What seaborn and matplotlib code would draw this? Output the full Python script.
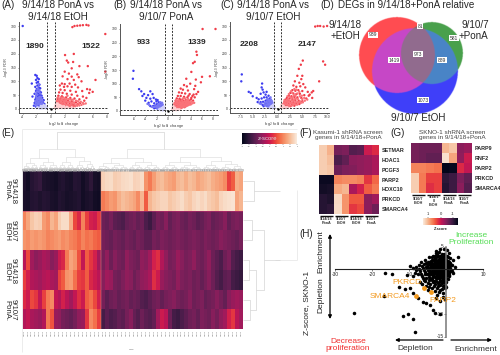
import numpy as np
import pandas as pd
import matplotlib
matplotlib.use("Agg")
import matplotlib.pyplot as plt
from matplotlib.cm import ScalarMappable
from matplotlib.colors import Normalize
import seaborn as sns

sns.set_theme(style="white")
plt.rcParams['font.family'] = ['Liberation Sans', 'DejaVu Sans']

W, H = 500, 355
# ---------- volcano data ----------
a_blue = [(-4,300),(-2.2,123),(-2,120),(-1.9,112),(-2.1,105),(-1.7,108),(-1.8,98),(-2.7,92),(-2,95),(-1.6,88),(-1.9,85),(-2.2,80),(-1.7,78),(-1.5,75),(-2,72),(-1.8,68),(-2.1,65),(-1.6,62),(-1.4,60),(-1.9,58),(-2.3,55),(-1.7,55),(-1.5,52),(-2,50),(-1.3,48),(-1.7,47),(-2.6,45),(-1.9,44),(-1.5,42),(-2.1,40),(-1.2,40),(-1.6,38),(-1.8,36),(-2.2,34),(-1.4,34),(-1,32),(-1.7,30),(-2,28),(-1.3,28),(-1.5,25),(-1.9,24),(-2.3,22),(-1.1,24),(-1.6,20),(-1.3,18),(-2,18),(-0.9,18),(-1.8,15),(-1.5,14),(-2.4,12),(-1.1,12),(-1.7,10),(-2.1,8),(-1.3,8),(-1.6,30),(-1.4,22),(-1.2,16),(-1.8,46),(-1.6,52)]
a_blue_mid = [(-1.2,14),(-1.4,15),(-1.6,16),(-1.8,18),(-2,14),(-2.2,16),(-1.1,20),(-1.3,22),(-1.5,20),(-1.7,22),(-1.9,20),(-2.1,24),(-1.2,30),(-1.4,30),(-1.6,28),(-1.8,26),(-2,33),(-2.2,28),(-1.3,36),(-1.5,36),(-1.7,36),(-1.9,32),(-2.1,46),(-1.4,44),(-1.6,44),(-1.8,40),(-2,40),(-1.5,56),(-1.7,62),(-1.9,52),(-2.1,56),(-1.6,68),(-1.8,74),(-2,62),(-1.7,90),(-1.9,70),(-1,8),(-1.2,11),(-1.4,7),(-1.6,6),(-1.8,8),(-2,9)]
a_blue_pale = [(-1.2,6),(-1.5,5),(-1,9),(-0.8,8),(-0.9,4),(-0.7,3),(-1.1,2),(-1.3,3),(-1.7,4),(-0.6,6),(-0.5,2),(-2,3),(-1,14),(-0.8,12),(-0.7,10),(-1.4,11),(-1.9,6),(-1.2,10),(-0.9,6),(-0.6,3),(-0.7,6),(-0.8,3),(-1,4),(-1.1,5),(-1.4,2),(-0.6,9),(-0.9,10),(-1.6,2)]
a_red = [(3.1,296),(3.4,300),(3.8,301),(4.2,302),(4.6,303),(5.1,304),(5.4,302),(7.8,271),(7.8,135),(2.05,195),(3.3,199),(2.3,175),(2.5,168),(3.2,170),(4.1,155),(5.3,155),(3,147),(2,135),(2.6,128),(3.8,125),(1.7,118),(3,117),(4,115),(2.4,108),(3.3,105),(4.4,100),(6.4,105),(1.6,92),(2,90),(2.7,92),(3.5,88),(1.3,85),(1.9,80),(2.4,82),(3,80),(3.9,78),(5.2,72),(5.6,70),(1.4,70),(2,68),(2.8,66),(3.6,62),(4.5,65),(5.5,58),(6,62),(1.2,60),(1.7,58),(2.3,55),(3,52),(3.8,48),(4.6,45),(5.1,40),(1.1,48),(1.6,46),(2.2,42),(2.8,40),(3.4,38),(4.1,35),(4.8,30),(1,38),(1.4,36),(1.9,34),(2.5,30),(3,28),(3.6,24),(4.2,22),(1.2,28),(1.7,25),(2.2,22),(2.7,18),(3.2,15),(1.5,18),(2,14),(2.5,12),(0.9,26),(1,32),(1.3,22),(1.8,18),(2.3,16),(2.9,11),(3.4,12),(3.9,18)]
a_red_mid = [(0.8,7),(1,8),(1.2,10),(1.4,9),(1.6,11),(1.8,12),(2,10),(2.2,11),(2.4,9),(2.6,10),(2.8,9),(3,10),(3.2,9),(3.5,10),(3.8,12),(4.1,13),(4.4,15),(4.7,18),(5,20),(0.9,14),(1.1,16),(1.3,14),(1.5,16),(1.7,15),(1.9,16),(2.1,18),(2.3,14),(2.5,16),(2.7,14),(2.9,15),(3.1,20),(3.4,18),(3.7,16),(4,20),(4.3,26),(4.6,22),(0.8,18),(1,22),(1.2,20),(1.4,24),(1.6,22),(1.8,24),(2,26),(2.2,28),(2.4,24),(2.6,26),(2.8,24),(3,22),(3.3,24),(3.6,30),(3.9,28),(0.9,30),(1.1,28),(1.3,32),(1.5,30),(1.7,32),(1.9,30),(2.1,32),(2.3,36),(2.6,36),(2.9,34),(3.2,34),(1,42),(1.2,36),(1.4,42),(1.6,40),(1.8,42),(2,38),(2.4,48)]
a_red_pale = [(0.7,5),(0.9,3),(1.1,6),(0.8,10),(1,12),(1.3,8),(0.7,15),(1.5,5),(0.6,3),(1.8,6),(2.1,5),(1.6,10),(0.9,17),(1.2,15),(2.3,8),(0.8,20),(1.4,13),(0.7,8),(1,20),(1.9,10),(0.7,12),(0.9,8),(1.1,3),(1.3,4),(1.6,3),(2,3),(2.5,5),(3,6),(0.6,7),(0.8,4),(1.2,7),(1.7,7)]

b_blue = [(-6.2,147),(-6.3,118),(-5.2,80),(-4.8,72),(-4.3,62),(-4.6,55),(-3.2,72),(-3.6,58),(-2.8,62),(-3.9,48),(-3.2,45),(-2.6,48),(-4.1,38),(-3.5,30),(-3,35),(-2.5,28),(-2.2,42),(-2.1,35),(-1.9,40),(-1.7,32),(-3.2,18),(-2.7,18),(-2.3,20),(-2,25),(-1.6,22),(-1.3,28),(-1.8,15),(-1.5,18),(-1.2,20),(-2.2,12),(-1.6,12),(-1.1,14),(-1.9,8),(-2.5,10)]
b_blue_mid = [(-1,10),(-1.2,7),(-1.4,9),(-1.6,8),(-1.8,10),(-2,12),(-1.1,16),(-1.3,13),(-1.5,15),(-1.7,17),(-1.9,20),(-2.1,18),(-2.3,16),(-2.5,15),(-2.7,14),(-2.9,15),(-1.2,24),(-1.4,20),(-1.6,26),(-1.8,24),(-2,16),(-3.4,22),(-3.7,26),(-1,24),(-1.1,30),(-1.4,32),(-1.3,17),(-1.5,11),(-1.7,12),(-1.9,13),(-1,18)]
b_blue_pale = [(-0.9,6),(-1.1,8),(-0.8,10),(-1,3),(-1.3,6),(-1.5,8),(-0.7,4),(-0.6,7),(-1.2,11),(-0.9,14),(-1.7,5),(-0.8,16),(-0.7,9),(-0.9,3),(-1.2,4),(-0.8,7),(-1.4,3),(-1,12)]
b_red = [(6.1,300),(8.4,300),(5,217),(5.1,205),(4.7,180),(4.4,175),(4.1,143),(7.4,127),(6,125),(3.2,118),(4.9,115),(2.8,95),(3.3,90),(3.9,100),(4.8,92),(5.8,105),(2.2,82),(2.6,78),(3.5,75),(4.6,80),(5.3,70),(1.9,68),(2.4,66),(3,64),(3.8,62),(4.5,60),(5,62),(1.7,55),(2.2,55),(2.8,52),(3.4,50),(4.1,48),(4.7,50),(1.5,46),(2,45),(2.5,42),(3.1,40),(3.7,38),(4.4,38),(1.3,38),(1.8,36),(2.3,33),(2.8,30),(3.3,30),(3.9,28),(1.2,30),(1.6,28),(2.1,25),(2.6,22),(3.1,20),(1.1,24),(1.5,20),(1.9,18),(2.4,15),(2.9,14),(1,16),(1.4,14),(1.8,12),(2.2,10),(4,42),(4.3,55),(3.6,56),(2.1,40),(2.7,36),(1.7,22),(1.3,18)]
b_red_mid = [(1,8),(1.2,10),(1.4,9),(1.6,11),(1.8,9),(2,9),(2.2,12),(2.4,12),(2.6,14),(2.8,16),(3,16),(3.2,18),(3.4,20),(3.6,22),(3.8,24),(4,24),(4.3,28),(4.6,30),(1.1,13),(1.3,12),(1.5,15),(1.7,15),(1.9,14),(2.1,15),(2.3,18),(2.5,18),(2.7,20),(2.9,22),(3.1,24),(3.3,24),(3.5,28),(3.7,30),(3.9,32),(4.2,34),(1,20),(1.2,22),(1.4,24),(1.6,24),(1.8,20),(2,22),(2.2,22),(2.4,24),(2.6,26),(2.8,26),(3,28),(3.2,30),(3.4,34),(3.6,36),(1.1,28),(1.3,30),(1.5,32),(1.7,30),(1.9,30),(2.1,30),(2.3,28),(2.5,32),(2.7,32),(2.9,36),(3.1,34),(3.3,38),(1.4,40),(1.6,36),(1.8,40),(2,36),(2.4,38),(2.6,46),(3,46),(3.5,44)]
b_red_pale = [(0.9,6),(1.1,9),(0.8,10),(1.3,7),(1,4),(1.5,5),(0.7,4),(1.7,6),(0.9,13),(1.2,12),(0.8,15),(2,6),(0.7,8),(0.9,3),(1.2,4),(1.4,3),(0.8,6),(1.8,4),(1,12),(0.9,18)]

c_blue = [(-7.2,125),(-7.3,100),(-5.8,62),(-5.4,58),(-5,46),(-3.1,92),(-3.2,78),(-3,70),(-2.8,60),(-3.4,55),(-2.4,52),(-2.2,62),(-4.2,40),(-3.8,35),(-3.2,38),(-2.7,42),(-2.2,42),(-1.8,48),(-1.6,38),(-4,25),(-3.4,25),(-2.9,26),(-2.4,30),(-2,30),(-1.5,30),(-3,15),(-2.5,18),(-2.1,20),(-1.7,24),(-1.3,22),(-2.2,12),(-1.8,14),(-1.4,14),(-1.1,18),(-1.7,8),(-2.8,10)]
c_blue_mid = [(-1,10),(-1.2,7),(-1.4,9),(-1.6,11),(-1.8,10),(-2,9),(-1.1,14),(-1.3,12),(-1.5,17),(-1.7,16),(-1.9,19),(-2.2,16),(-2.4,13),(-2.6,14),(-1.2,26),(-1.4,20),(-1.6,26),(-1.8,30),(-2,24),(-2.3,24),(-2.6,22),(-1,22),(-1.1,28),(-1.3,34),(-1.6,32),(-1.9,36),(-2.1,34),(-1.4,42),(-3.3,18),(-3.6,20)]
c_blue_pale = [(-0.9,6),(-1.2,8),(-0.8,10),(-1,3),(-1.4,6),(-0.7,4),(-0.6,7),(-1.2,11),(-0.9,14),(-0.8,16),(-1.6,4),(-0.7,9),(-0.9,3),(-1.2,4),(-0.8,7),(-1.4,3)]
c_red = [(7.6,298),(8.1,300),(8.6,300),(9.3,298),(10,300),(9.2,172),(9.6,160),(5.1,175),(4.7,160),(4.3,145),(4,120),(5,120),(4.8,108),(3.5,100),(4.4,95),(5.2,90),(8.4,100),(3.2,85),(3.8,80),(4.6,82),(5.6,78),(7.2,65),(3,68),(3.6,66),(4.2,68),(5,65),(6.1,62),(6.9,60),(2.6,58),(3.2,56),(3.8,54),(4.5,55),(5.4,50),(6.3,48),(2.3,48),(2.8,46),(3.4,44),(4,42),(4.8,40),(5.8,38),(1.9,40),(2.4,38),(3,35),(3.6,32),(4.3,30),(5,28),(1.6,34),(2.1,30),(2.6,26),(3.2,24),(3.8,20),(4.4,18),(1.4,26),(1.8,22),(2.3,18),(2.9,16),(3.4,12),(1.2,18),(1.6,14),(2,12),(2.6,10),(6.5,52),(7,40)]
c_red_mid = [(1,8),(1.2,10),(1.5,9),(1.8,8),(2.2,9),(2.5,12),(2.8,12),(3.1,14),(3.4,18),(3.7,16),(4,16),(4.3,24),(4.7,22),(5.1,24),(5.5,30),(6,34),(1.1,14),(1.3,14),(1.7,18),(2,16),(2.2,15),(2.5,20),(2.7,22),(3,20),(3.3,20),(3.6,26),(4,26),(4.5,28),(5,36),(5.4,40),(1.3,22),(1.5,20),(1.8,28),(2,24),(2.2,26),(2.4,30),(2.8,32),(3.1,30),(3.4,36),(3.7,38),(4.1,36),(4.5,46),(4.9,48),(1.4,32),(1.6,28),(1.9,32),(2.1,36),(2.4,44),(2.7,40),(3,42),(3.3,50),(3.6,48),(4,56),(4.4,62),(2,46),(2.3,54),(2.7,64),(3,58),(3.4,72),(3.8,70)]
c_red_pale = [(0.9,6),(1.1,9),(0.8,10),(1.3,7),(1,4),(1.5,5),(0.7,4),(1.7,6),(0.9,13),(1.2,12),(0.8,15),(2,6),(0.7,8),(0.9,3),(1.2,4),(1.4,3),(0.8,6),(1.8,4)]

# ---------- heatmap E data ----------
e_1 = [8,5,10,12,14,8,7,6,5,8,9,7,6,10,9,5,8,12,6,5, 93,95,96,92,93,95,96,97,93,94,96,78,72,80,86,88,84,82,80,86,88,84,88,86,82,84,86,88,84,82,80,76,60,66,84,82]
e_2 = [7,6,9,10,8,10,9,7,6,9,8,6,7,8,9,5,7,8,5,4, 72,76,80,78,84,88,86,84,82,76,86,66,86,90,92,94,94,90,92,94,96,92,90,94,96,94,96,92,90,88,94,96,97,98,82,86]
e_3 = [74,82,90,93,92,80,76,86,82,92,96,96,84,62,55,74,60,52,50,58, 28,26,30,24,22,20,26,28,30,26,28,20,16,24,30,28,34,26,30,32,28,26,30,28,24,26,30,32,26,28,30,34,26,30,32,30]
e_4 = [78,76,80,78,80,78,74,76,78,80,76,78,74,72,68,74,70,72,68,66, 30,28,26,30,28,26,30,28,26,30,28,24,24,30,28,32,30,28,30,32,30,28,30,32,30,28,32,30,28,30,34,32,30,28,26,30]
e_5 = [45,62,40,35,38,42,40,34,38,50,54,72,82,78,64,48,66,58,52,40, 30,36,28,34,30,28,36,32,30,28,36,34,40,52,56,44,36,30,32,38,34,30,32,36,30,28,32,36,28,24,20,28,32,22,18,16]
e_6 = [60,52,44,42,40,44,46,42,40,60,66,78,80,70,60,58,66,54,50,46, 34,40,38,30,28,32,36,34,28,32,36,38,42,56,50,38,34,32,30,36,32,30,32,28,30,26,30,34,28,22,18,24,26,18,16,14]
e_7 = [55,50,62,58,48,60,72,76,48,44,52,46,40,48,56,50,66,70,62,52, 30,24,28,30,26,28,30,26,28,26,22,20,24,28,30,26,30,32,34,30,28,30,34,28,30,32,26,28,30,34,30,26,34,38,40,38]
e_8 = [44,48,42,40,38,44,72,64,38,36,30,28,26,30,36,38,58,76,70,60, 18,24,20,22,26,24,30,34,26,22,28,24,22,26,40,50,46,28,18,16,20,24,28,30,26,32,30,28,34,30,36,40,52,58,46,40]
e_rows = [e_1, e_2, e_3, e_4, e_5, e_6, e_7, e_8]
e_genes = ["Gene"] * len(e_1)

# ---------- heatmap F / G data ----------
f_genes = ["SETMAR","HDAC1","PCGF3","PARP2","HOXC10","PRKCD","SMARCA4"]
f_vals = [[92,85,30,32,22,24,50,55],[92,88,20,25,35,36,38,42],[92,90,28,32,33,36,38,42],
          [3,3,74,76,76,74,58,68],[5,6,83,86,42,52,66,72],[10,8,95,78,65,65,35,40],[10,12,96,78,58,62,35,28]]
g_genes = ["PARP9","RNF2","PARP2","PRKCD","SMARCA4"]
g_vals = [[30,28,28,28,86,90,35,38],[30,28,25,25,97,82,36,50],[74,74,72,70,0,2,55,48],
          [92,72,60,60,12,16,32,25],[92,72,56,60,10,16,35,22]]

# ---------- scatter H data ----------
h_cloud = [(-9.7,0.6),(-10.6,-1.3),(-9,0.2),(-8.5,-0.8),(-8,0.5),(-8.8,-1.6),(-7.6,-1.2),(-7.2,0.8),(-7,-0.4),(-6.8,1.5),(-6.5,-1.6),(-6.2,0.2),(-6,1.2),(-5.8,-0.7),(-5.6,2),(-5.4,-1.9),(-5.2,0.7),(-5,-0.2),(-4.8,1.6),(-4.7,-1.2),(-4.5,2.6),(-4.3,0.2),(-4.2,-2.2),(-4,1),(-3.9,-0.6),(-3.8,2),(-3.6,-1.6),(-3.5,0.4),(-3.4,3),(-3.3,-2.6),(-3.1,1.4),(-3,-0.3),(-2.9,2.4),(-2.8,-1.2),(-2.7,0.7),(-2.6,3.5),(-2.5,-2),(-2.4,1.8),(-2.3,-0.6),(-2.2,2.9),(-2.1,0.2),(-2,-1.5),(-1.9,1.2),(-1.8,3.8),(-1.7,-0.3),(-1.6,2.2),(-1.5,-2.4),(-1.4,0.7),(-1.3,3),(-1.2,-1),(-1.1,1.6),(-1,-0.2),(-0.9,2.6),(-0.8,-1.8),(-0.7,0.5),(-0.6,3.4),(-0.5,-0.7),(-0.4,1.4),(-0.3,-2.6),(-0.2,2.2),(-0.1,0.1),(0,-1.3),(0.1,1),(0.2,3),(0.3,-0.4),(0.5,1.8),(0.7,-1.4),(0.9,0.6),(1,2.4),(1.2,-0.5),(1.5,0.9),(1.8,2),(2,-0.8),(2.4,0.4),(3.2,2.7),
 (-5.5,0.4),(-5,1.1),(-4.6,-0.5),(-4.4,0.9),(-4.1,-1.2),(-3.7,1.3),(-3.5,-0.8),(-3.2,0.1),(-3,1),(-2.9,-0.9),(-2.7,1.9),(-2.5,0.4),(-2.4,-0.9),(-2.2,1.1),(-2,0.4),(-1.9,-0.5),(-1.8,1.7),(-1.6,0.5),(-1.5,-0.9),(-1.4,1.5),(-1.3,0.1),(-1.1,-0.4),(-1,0.9),(-0.9,1.6),(-0.8,0),(-0.7,-0.8),(-0.6,1.2),(-0.4,0.2),(-0.3,-0.6),(-0.2,1),(0,0.4),(0.2,-0.3),(0.4,0.7),(-4.9,-1.1),(-4.3,-0.4),(-3.9,0.5),(-3.3,0.8),(-3,-1.7),(-2.6,-0.4),(-2.3,0.6),(-1.7,0.9),(-1.2,0.4),(-0.9,-0.9),(-0.5,0.6),(0.1,-0.7),(0.6,0.2),
 (-6,-2.5),(-5,-3),(-4.2,-3.4),(-3.5,-2.9),(-2.9,-3.3),(-2.2,-3),(-1.6,-3.6),(-1,-3),(-0.4,-3.5),(0.1,-2.8),(-7,-2.8),(-6.4,-3.4),(-5.3,-3.8),(-3.9,-4.2),(-2.4,-4.2),(-1.2,-4.4),(-0.2,-4.3),(-3.1,-4.9),(-1.8,-5.2),(-0.7,-5.3),(-4.8,-4.6),(-2.4,-5.8),(-0.9,-6.2),(-1.6,-7),(-2.8,-6.4),(-0.3,-6.6),(0,-4),(0.5,-2.2),(-1.7,4.5),(-0.6,4.4),(0.4,4.2),(-2.7,4),(0.9,3.5),
 (-24.8,-9.8),(-11.7,-10.5),(-10.4,-9.9),(-8.4,-13.9),(-8.8,-11),(-3,-9.8),(-1.5,-10),(-16.5,-0.9),(-14.5,-1.1),(-12.7,-3.9),(-16.7,-5.9),(-6.3,-7.3),(-5.5,-7.6),(-3.4,-9),(-4.3,-7.9),(-7.6,-6.5),(-11,-4.5),(-9.6,-4.2),(-8.9,-5.4)]
h_dense = [(-4,1.7),(-3.7,2.6),(-3.2,2),(-3,2.9),(-2.6,2.6),(-2.3,3.3),(-2,2.3),(-1.7,3),(-1.4,2.4),(-1,3.3),(-0.7,2.1),(-0.3,2.8),(0.1,2),(0.5,2.7),(0.8,1.5),(1.2,1.4),(1.4,-0.2),(1.1,0.2),(-4.6,1.5),(-5.4,1.3),(-6,-0.3),(-6.5,0.7),(-5.7,-1.2),(-5.1,-1),(-4.5,-1.7),(-3.9,-1.9),(-3.4,-1.3),(-2.8,-2),(-2.3,-1.6),(-1.8,-2.1),(-1.3,-1.8),(-0.9,-2.3),(-0.5,-1.6),(-0.1,-1.9),(0.4,-1.3),(0.8,-0.8),(-3.8,0),(-3.3,-0.4),(-2.8,0.2),(-2.4,1.3),(-2.1,-0.3),(-1.8,0.1),(-1.5,1.1),(-1.2,1.2),(-1,0.3),(-0.7,1.2),(-0.4,-0.2),(-0.2,0.4),(0.2,0.6),(-3.6,0.9),(-3,0.4),(-2.6,1.2),(-2.2,-1.1),(-1.9,0.6),(-1.6,-1.2),(-1.3,-0.5),(-1,-1.4),(-0.6,-1.2),(-0.2,-0.9),(0.3,-1),(0.6,1.2),(-4.2,1.3),(-4.8,0.3),(-4.4,-1),(-2.9,1.6),(-2,1.8),(-1.1,2.1),(-0.5,2),(0.3,1.3),(-6.8,-1),(-7.4,0),(-8.2,-0.2),(-6.2,-2),(-5.6,-2.7),(-4.6,-2.5),(-3.7,-2.5),(-2.6,-2.7),(-1.9,-2.8),(-1.2,-2.6),(-0.6,-2.8),(-3.3,-3.8),(-2.2,-3.7),(-0.9,-3.7),(-4.5,-3.9),(-1.5,-4.6),(1.3,0.9),(1.7,-0.4),(0.9,-1.6)]
h_hits_x = [-5.9, -8.2, -4.1]
h_hits_y = [-4.2, -5.9, -5.0]

fig = plt.figure(figsize=(W/100, H/100), dpi=100, facecolor="white")

def px_axes(l, t, r, b, **kw):
    return fig.add_axes([l/W, 1-b/H, (r-l)/W, (b-t)/H], **kw)

def volcano(rect, zero_px, ppu_x, y_px, xticks, xticklabels, red, red_mid, red_pale, blue, blue_mid, blue_pale, dash):
    l, t, r, b = rect
    ax = px_axes(l, t, r, b)
    ax.set_xlim((l-zero_px)/ppu_x, (r-zero_px)/ppu_x)
    y300, y0 = y_px
    ppu_y = (y0-y300)/300
    ax.set_ylim((y0-b)/ppu_y, (y0-t)/ppu_y)
    groups = [("red", red), ("blue", blue), ("mid_r", red_mid), ("mid_b", blue_mid), ("pale_r", red_pale), ("pale_b", blue_pale)]
    df = pd.DataFrame([(x, y, g) for g, pts in groups for x, y in pts], columns=["fc", "fdr", "grp"])
    pal = {"pale_r": "#fdd0d2", "pale_b": "#d2d2fa", "mid_r": "#fa7278", "mid_b": "#7878f4", "red": "#f03c48", "blue": "#3c3cf0"}
    sns.scatterplot(data=df, x="fc", y="fdr", hue="grp", palette=pal, s=3.0, linewidth=0, ax=ax, legend=False)
    sns.scatterplot(x=[0], y=[0], color="black", s=3, linewidth=0, ax=ax, legend=False)
    for d in dash:
        ax.axvline(d, color="#333333", lw=0.7, ls=(0, (2, 1.4)))
    ax.axhline(2, color="#333333", lw=0.7, ls=(0, (2, 1.4)))
    ax.set_xticks(xticks)
    ax.set_xticklabels(xticklabels)
    ax.set_yticks([0, 50, 100, 150, 200, 250, 300])
    ax.tick_params(labelsize=2.4, length=1, width=0.4, pad=0.6, colors="#333333", left=True, bottom=True)
    ax.set_xlabel("log$_2$ fold change", fontsize=3, labelpad=0.5, color="#444444")
    ax.set_ylabel("-log$_{10}$ FDR", fontsize=2.8, labelpad=0.5, color="#444444")
    for s in ("top", "right"):
        ax.spines[s].set_visible(False)
    for s in ("left", "bottom"):
        ax.spines[s].set_color("#555555")
        ax.spines[s].set_linewidth(0.7)
    return ax

volcano((19, 22, 108, 113), 50.7, 7.0, (26, 109), [-4,-2,0,2,4,6,8], ["-4","-2","0","2","4","6","8"], a_red, a_red_mid, a_red_pale, a_blue, a_blue_mid, a_blue_pale, (-0.58, 0.6))
volcano((120, 24, 218, 115), 168.3, 5.62, (29, 111), [-6,-4,-2,0,2,4,6,8], ["-6","-4","-2","0","2","4","6","8"], b_red, b_red_mid, b_red_pale, b_blue, b_blue_mid, b_blue_pale, (-0.6, 0.65))
volcano((230, 22, 329, 113), 277.5, 4.96, (26, 109), [-7.5,-5,-2.5,0,2.5,5,7.5,10], ["-7.5","-5.0","-2.5","0.0","2.5","5.0","7.5","10.0"], c_red, c_red_mid, c_red_pale, c_blue, c_blue_mid, c_blue_pale, (-0.7, 0.7))

# ---------- Venn ----------
vx = px_axes(350, 12, 470, 120)
gx, gy = np.meshgrid(np.linspace(350, 470, 480), np.linspace(12, 120, 432))
in_r = (gx-397)**2 + (gy-55)**2 < 38**2
in_g = (gx-432)**2 + (gy-53)**2 < 31**2
in_b = (gx-415)**2 + (gy-71)**2 < 43**2
img = np.ones(gx.shape + (3,))
img[in_r] = (1.0, 0.30, 0.32)
img[in_g] = (0.29, 0.63, 0.30)
img[in_b] = (0.25, 0.25, 0.98)
img[in_r & in_g] = (0.55, 0.40, 0.40)
img[in_r & in_b] = (0.78, 0.28, 0.78)
img[in_g & in_b] = (0.29, 0.52, 0.78)
img[in_r & in_g & in_b] = (0.57, 0.42, 0.56)
vx.imshow(img, extent=(350, 470, 120, 12), interpolation="bilinear", aspect="auto")
vx.axis("off")

# ---------- Heatmap E ----------
ex = px_axes(22, 171, 243, 329)
e_df = pd.DataFrame(np.array(e_rows)/100.0, columns=range(len(e_1)))
sns.heatmap(e_df, cmap="rocket", vmin=0, vmax=1, cbar=False, ax=ex, xticklabels=e_genes, yticklabels=False)
ex.tick_params(axis="x", labelsize=1.7, length=0, pad=0.5, rotation=90, colors="#666666")
ex.set_xlabel("")
ex.axhline(2, color="#c03070", lw=0.4)
ex.axvline(20, color="#f0a080", lw=0.3)

cx = px_axes(242, 133, 297, 144)
fig.colorbar(ScalarMappable(Normalize(-2, 2), "rocket"), cax=cx, orientation="horizontal")
cx.tick_params(labelsize=1.5, length=1, width=0.3, pad=0.4, colors="#555555")
cx.set_xticks([-2, -1.5, -1, -0.5, 0, 0.5, 1, 1.5, 2])
cx.set_xticklabels(["-2","-1.5","-1","-0.5","0","0.5","1","1.5","2"])
for s in cx.spines.values():
    s.set_visible(False)

# ---------- Heatmap F, G ----------
fx = px_axes(319, 145, 379, 214)
sns.heatmap(pd.DataFrame(f_vals, index=f_genes)/100.0, cmap="rocket", vmin=0, vmax=1, cbar=False, ax=fx, xticklabels=False, yticklabels=f_genes)
fx.yaxis.tick_right()
fx.tick_params(axis="y", labelsize=3.9, length=0, pad=2, rotation=0)
for t in fx.get_yticklabels():
    t.set_fontweight("bold")

gxx = px_axes(411, 143, 472, 193)
sns.heatmap(pd.DataFrame(g_vals, index=g_genes)/100.0, cmap="rocket", vmin=0, vmax=1, cbar=False, ax=gxx, xticklabels=False, yticklabels=g_genes)
gxx.yaxis.tick_right()
gxx.tick_params(axis="y", labelsize=3.9, length=0, pad=2, rotation=0)
for t in gxx.get_yticklabels():
    t.set_fontweight("bold")

gc = px_axes(423, 218, 458, 225)
fig.colorbar(ScalarMappable(Normalize(-1.4, 1.4), "rocket_r"), cax=gc, orientation="horizontal")
gc.xaxis.tick_top()
gc.set_xticks([-1, 0, 1])
gc.set_xticklabels(["1", "0", "-1"])
gc.tick_params(labelsize=3, length=1, width=0.3, pad=0.4, top=True, bottom=False)
for s in gc.spines.values():
    s.set_visible(False)

# ---------- Scatter H ----------
hx = px_axes(335, 240, 490, 340)
ppx, ppy = 3.7, 4.5
hx.set_xlim((335-446)/ppx, (490-446)/ppx)
hx.set_ylim((269-340)/ppy, (269-240)/ppy)
h_df = pd.DataFrame(h_cloud + h_dense, columns=["x", "y"])
sns.scatterplot(data=h_df, x="x", y="y", color="black", s=6.5, linewidth=0, ax=hx, legend=False)
sns.scatterplot(x=h_hits_x, y=h_hits_y, color="#f39a1f", s=12, linewidth=0, ax=hx, legend=False, zorder=5)
hx.patch.set_alpha(0)
hx.set_xlabel(""); hx.set_ylabel("")
hx.spines["left"].set_position(("data", 0))
hx.spines["bottom"].set_position(("data", 0))
hx.spines["left"].set_bounds(-15, 5)
hx.spines["bottom"].set_bounds(-30, 10)
for s in ("top", "right"):
    hx.spines[s].set_visible(False)
for s in ("left", "bottom"):
    hx.spines[s].set_color("#222222")
    hx.spines[s].set_linewidth(0.8)
hx.spines["left"].set_color("#777777")
hx.spines["left"].set_linewidth(1.1)
hx.set_xticks([-30, -20, -10, 10])
hx.set_xticklabels(["-30", "-20", "-10", "10"])
hx.set_yticks([5, -10, -15])
hx.set_yticklabels(["5", "-10", "-15"])
hx.tick_params(labelsize=3.5, length=1.2, width=0.4, pad=0.6, left=True, bottom=True)

# ---------- Overlay ----------
ov = px_axes(0, 0, W, H)
ov.set_xlim(0, W); ov.set_ylim(H, 0); ov.axis("off"); ov.patch.set_alpha(0)
ov.set_zorder(20)

def T(x, y, s, size=7.1, ha="center", va="center", **kw):
    ov.text(x, y, s, fontsize=size, ha=ha, va=va, **kw)

for x, s in ((1, "(A)"), (113, "(B)"), (220, "(C)"), (320, "(D)")):
    T(x, 5, s, ha="left")
T(58, 5, "9/14/18 PonA vs"); T(58, 17, "9/14/18 EtOH")
T(166, 5, "9/14/18 PonA vs"); T(166, 17, "9/10/7 PonA")
T(273, 5, "9/14/18 PonA vs"); T(273, 17, "9/10/7 EtOH")
T(338, 5, "DEGs in 9/14/18+PonA relative", ha="left")
T(345, 25, "9/14/18"); T(345, 36, "+EtOH")
T(475, 25, "9/10/7"); T(473, 36, "+PonA")
T(418, 118, "9/10/7 EtOH")
for x, y, s in ((35, 46, "1890"), (91, 46, "1522"), (144, 43, "933"), (197, 43, "1339"), (249, 44, "2208"), (307, 44, "2147")):
    T(x, y, s, size=6, fontweight="bold")
for x, y, s in ((373, 35, "939"), (420, 26, "81"), (454, 38, "581"), (394, 60, "1419"), (418, 54, "973"), (442, 60, "889"), (423, 100, "1073")):
    T(x, y, s, size=3.6, color="#333333", bbox=dict(fc="white", ec="none", pad=0.4))

T(1, 133, "(E)", ha="left")
T(306, 133, "(F)"); T(398, 133, "(G)"); T(306, 234, "(H)")
T(348, 135, "Kasumi-1 shRNA screen\ngenes in 9/14/18+PonA", size=4.6, color="#444444", linespacing=1.1)
T(452, 135, "SKNO-1 shRNA screen\ngenes in 9/14/18+PonA", size=4.6, color="#444444", linespacing=1.1)
T(268, 138.5, "z-score", size=4.2, color="#dddddd")
T(132, 350, "Gene", size=1.6, color="#666666")
T(441, 229, "Z-score", size=2.8, fontweight="bold")

for y, s in ((191, "9/14/18\nPonA."), (231, "9/10/7\nEtOH"), (271, "9/14/18\nEtOH"), (310, "9/10/7\nPonA.")):
    T(10, y, s, size=5.6, rotation=-90, linespacing=1.0)

# frame and dendrogram lines
dg = "#d4d4d4"
def L(xs, ys, c=dg, lw=0.5):
    ov.plot(xs, ys, color=c, lw=lw, solid_capstyle="butt")
L([22, 22], [129, 352], "#ececec", 0.7); L([22, 297], [129, 129], "#ececec", 0.7)
L([297, 297], [190, 260], "#ececec", 0.7); L([275, 297], [260, 260], "#ececec", 0.7)

def brackets(x0, x1, top, depth):
    """nested dendrogram brackets over the x0..x1 span"""
    if depth == 0:
        return (x0 + x1) / 2
    xm = x0 + (x1 - x0) * (0.5 if depth % 2 else 0.44)
    a = brackets(x0, xm, top + (170 - top) * 0.42, depth - 1)
    b = brackets(xm, x1, top + (170 - top) * 0.36, depth - 1)
    child_a = top + (170 - top) * 0.42 if depth > 1 else 170.5
    child_b = top + (170 - top) * 0.36 if depth > 1 else 170.5
    c = "#d8d8d8" if depth > 2 else "#a8a8a8"
    L([a, a, b, b], [child_a, top, top, child_b], c, 0.4)
    return (a + b) / 2

a = brackets(22, 95, 149, 7)
b = brackets(96, 243, 149, 8)
L([a, a, b, b], [149, 132, 132, 149])

for xs, ys in (([243, 254, 254, 243], [181, 181, 201, 201]), ([254, 280], [191, 191]),
               ([243, 252, 252, 243], [220, 220, 240, 240]), ([243, 249, 249, 243], [260, 260, 280, 280]),
               ([243, 250, 250, 243], [300, 300, 320, 320]), ([249, 256, 256, 250], [270, 270, 310, 310]),
               ([252, 264, 264, 256], [230, 230, 290, 290]), ([264, 280], [260, 260])):
    L(xs, ys)

# group bars and labels
f_lbl = ["9/14/18\nPonA", "9/10/7\nEtOH", "9/14/18\nEtOH", "9/10/7\nPonA"]
for i, s in enumerate(f_lbl):
    x0 = 319 + i*15
    L([x0+1, x0+14], [216, 216], "#111111", 1.0)
    T(x0+7.5, 221, s, size=2.7, fontweight="bold", color="#333333", linespacing=1.0)
g_lbl = ["9/10/7\nEtOH", "9/14/1\n8\nEtOH", "9/14/18\nPonA", "9/10/7\nPonA"]
for i, s in enumerate(g_lbl):
    x0 = 411 + i*15.25
    L([x0+1, x0+14], [195, 195], "#111111", 1.0)
    T(x0+7.5, 201.5, s, size=2.7, fontweight="bold", color="#333333", linespacing=1.0)

# H annotation
T(471, 239, "Increase\nProliferation", size=6, color="#55dd55", linespacing=1.15)
T(348, 345, "Decrease\nproliferation", size=6, color="#f03030", linespacing=1.15)
T(415, 349, "Depletion", size=6, color="#333333")
T(476, 349.5, "Enrichment", size=6, color="#333333")
T(321, 252, "Enrichment", size=6, rotation=90, color="#222222")
T(321, 295, "Depletion", size=6, rotation=90, color="#222222")
T(307, 303, "Z-score, SKNO-1", size=6, rotation=90, color="#222222")
T(407, 283, "PKRCD", size=6, color="#f39a1f")
T(390, 297, "SMARCA4", size=6, color="#f39a1f")
T(443, 300, "PARP2", size=6, color="#f39a1f")
arrow = dict(arrowstyle="<|-|>", color="black", lw=0.9, mutation_scale=5, shrinkA=0, shrinkB=0)
ov.annotate("", xy=(330, 234), xytext=(330, 319), arrowprops=arrow)
ov.annotate("", xy=(395, 340), xytext=(443, 340), arrowprops=dict(arrow, arrowstyle="-|>"))
ov.annotate("", xy=(492, 340), xytext=(451, 340), arrowprops=dict(arrow, arrowstyle="-|>"))

fig.savefig("out.png", dpi=100)
